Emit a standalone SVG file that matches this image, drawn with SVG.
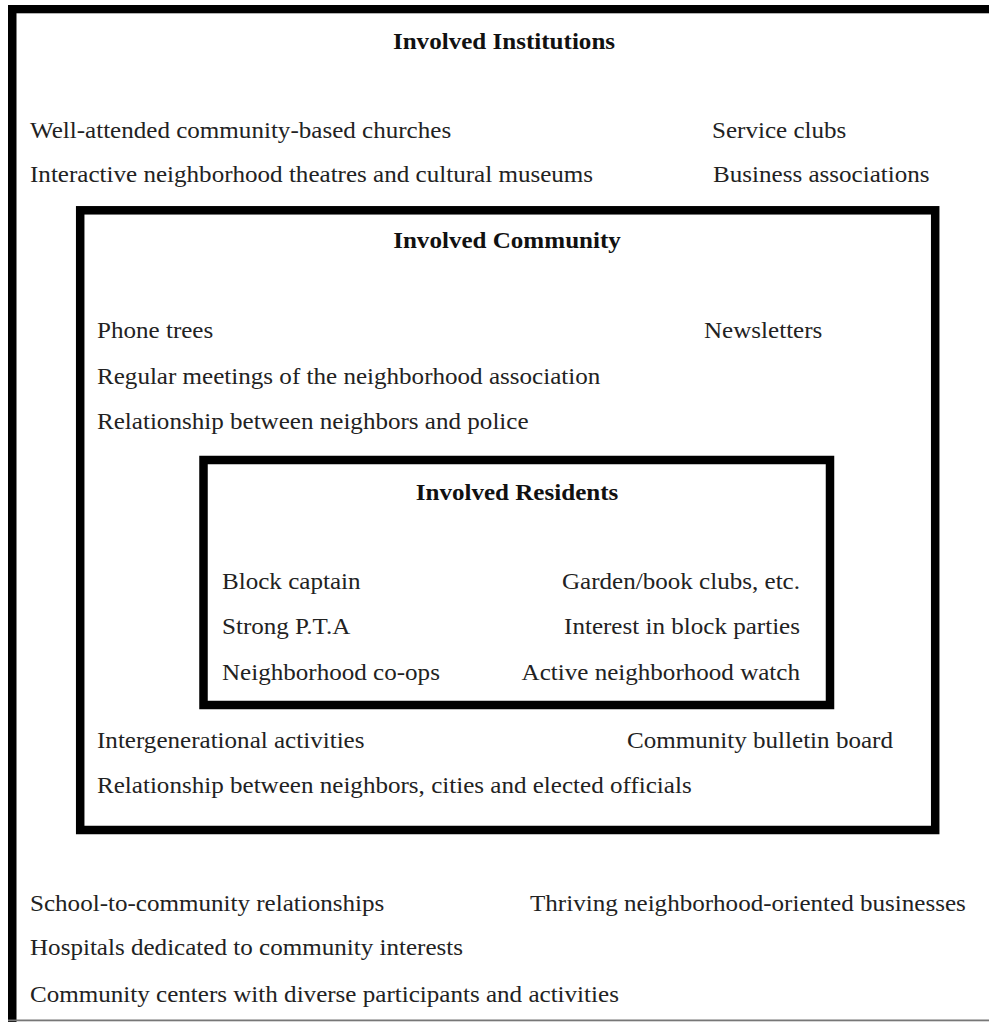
<svg xmlns="http://www.w3.org/2000/svg" width="989" height="1022" viewBox="0 0 989 1022">
<style>
text{font-family:"Liberation Serif","Times New Roman",serif;font-size:24px;fill:#222}
.h{font-weight:bold;fill:#111;text-anchor:middle}
.r{text-anchor:end}
.box{fill:none;stroke:#000;stroke-width:8.5}
</style>
<rect width="989" height="1022" fill="#fff"/>
<g id="institutions">
<rect x="8" y="5" width="981" height="8.3" fill="#000"/>
<rect x="8" y="5" width="8.5" height="1017" fill="#000"/>
<rect x="8" y="1019.5" width="981" height="1.8" fill="#777"/>
<text class="h" transform="translate(504 49) scale(1.045 1)">Involved Institutions</text>
<text transform="translate(30 137.5) scale(1.045 1)">Well-attended community-based churches</text>
<text transform="translate(712 137.5) scale(1.045 1)">Service clubs</text>
<text transform="translate(30 182) scale(1.045 1)">Interactive neighborhood theatres and cultural museums</text>
<text transform="translate(713 182) scale(1.045 1)">Business associations</text>
<text transform="translate(30 911) scale(1.045 1)">School-to-community relationships</text>
<text transform="translate(530 911) scale(1.045 1)">Thriving neighborhood-oriented businesses</text>
<text transform="translate(30 955) scale(1.045 1)">Hospitals dedicated to community interests</text>
<text transform="translate(30 1001.5) scale(1.045 1)">Community centers with diverse participants and activities</text>
</g>
<g id="community">
<rect class="box" x="80.2" y="210.3" width="855" height="619.7"/>
<text class="h" transform="translate(507 248) scale(1.045 1)">Involved Community</text>
<text transform="translate(97 338) scale(1.045 1)">Phone trees</text>
<text transform="translate(704 338) scale(1.045 1)">Newsletters</text>
<text transform="translate(97 384) scale(1.045 1)">Regular meetings of the neighborhood association</text>
<text transform="translate(97 429) scale(1.045 1)">Relationship between neighbors and police</text>
<text transform="translate(97 748) scale(1.045 1)">Intergenerational activities</text>
<text transform="translate(627 748) scale(1.045 1)">Community bulletin board</text>
<text transform="translate(97 793) scale(1.045 1)">Relationship between neighbors, cities and elected officials</text>
</g>
<g id="residents">
<rect class="box" x="203.5" y="460" width="626.5" height="245"/>
<text class="h" transform="translate(517 500) scale(1.045 1)">Involved Residents</text>
<text transform="translate(222 589) scale(1.045 1)">Block captain</text>
<text class="r" transform="translate(800 589) scale(1.045 1)">Garden/book clubs, etc.</text>
<text transform="translate(222 634) scale(1.045 1)">Strong P.T.A</text>
<text class="r" transform="translate(800 634) scale(1.045 1)">Interest in block parties</text>
<text transform="translate(222 679.5) scale(1.045 1)">Neighborhood co-ops</text>
<text class="r" transform="translate(800 679.5) scale(1.045 1)">Active neighborhood watch</text>
</g>
<g id="connectors"></g>
</svg>
